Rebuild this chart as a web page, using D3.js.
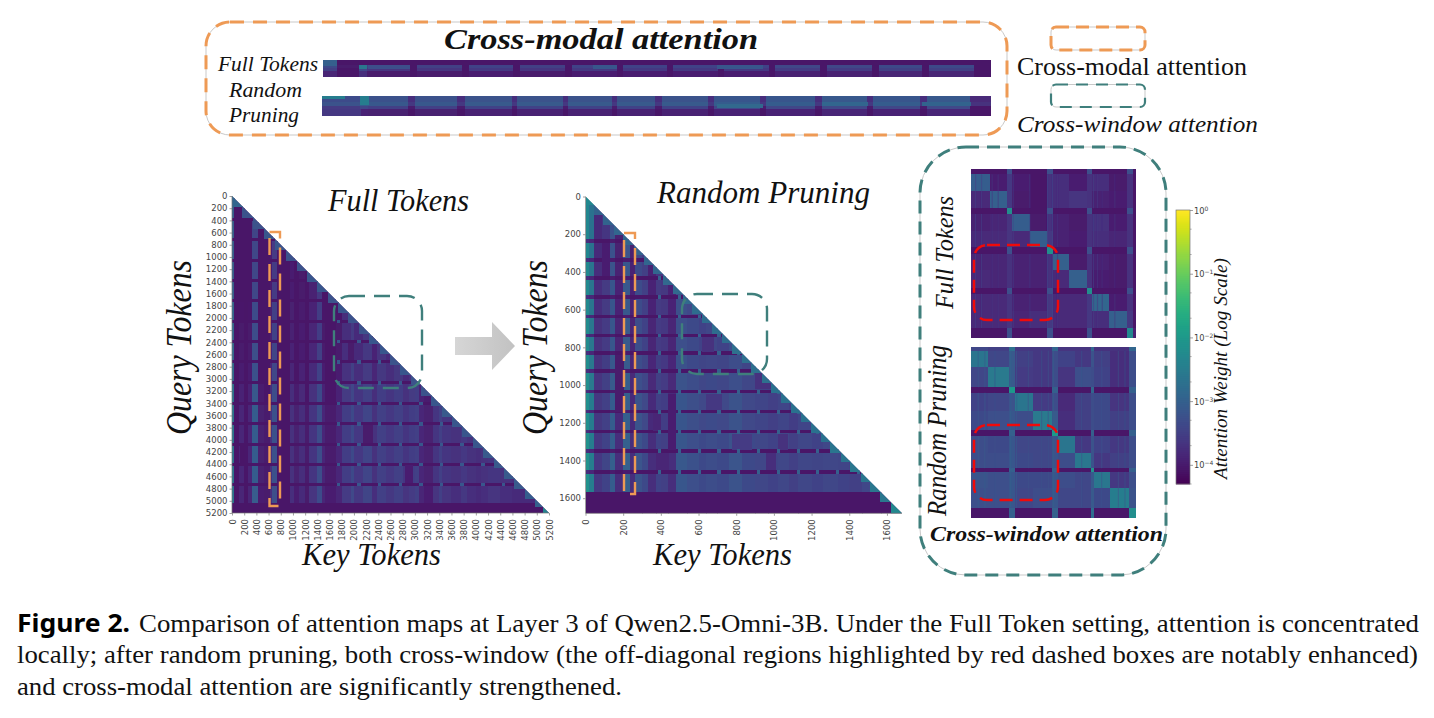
<!DOCTYPE html>
<html><head><meta charset="utf-8">
<script src="https://cdn.jsdelivr.net/npm/d3@7"></script>
<style>
html,body{margin:0;padding:0;background:#fff;overflow:hidden}
svg{display:block}
.tick text{font-family:"DejaVu Sans",sans-serif;fill:#444}
.tick line,.domain{stroke:#777;stroke-width:.7}
</style></head><body><svg id="c" width="1434" height="718"></svg>
<script>
// ---------- values (log10 of attention weight) ----------
const orange="#EE9A55", teal="#3F7F7C", red="#F00A0A";
const tickFull=d3.range(0,5201,200), tickRand=d3.range(0,1601,200);

// Full Tokens triangle
const fullColEdges=[0,40,110,200,260,320,430,520,620,660,740,800,950,1020,1100,1190,1270,1400,1470,1520,1700,1800,1950,2000,2150,2300,2380,2520,2650,2800,2900,3000,3060,3150,3300,3400,3450,3600,3750,3850,4000,4080,4200,4400,4600,4800,5030,5200];
const fullColLevels=[-2.55,-3.8,-3.6,-3.8,-3.6,-2.95,-3.7,-3.75,-3.5,-3.1,-3.8,-4.0,-3.5,-3.7,-3.55,-3.75,-3.45,-3.15,-3.6,-3.75,-3.6,-3.35,-3.2,-3.4,-3.25,-3.5,-3.3,-3.4,-3.3,-3.45,-3.35,-3.3,-3.6,-3.7,-3.45,-3.3,-3.45,-3.5,-3.4,-3.5,-3.55,-3.5,-3.45,-3.5,-3.55,-3.55,-3.3];
const fullRowEdges=[0,360,410,695,745,1033,1083,1360,1410,1690,1740,2030,2080,2360,2410,2690,2740,3040,3090,3372,3422,3710,3760,4044,4094,4372,4422,4705,4755,5033,5200];
const fullRowBase=[-3.98,-4.2,-3.98,-4.2,-3.96,-4.2,-3.96,-4.2,-3.95,-4.2,-3.92,-4.2,-3.9,-4.2,-3.88,-4.2,-3.84,-4.2,-3.75,-4.2,-3.7,-4.2,-3.7,-4.2,-3.7,-4.2,-3.7,-4.2,-3.72,-4.2];
const fullRowGain=[1,.15,1,.15,1,.15,1,.15,1,.15,1.1,.15,1.1,.15,1.1,.15,1.1,.15,1.15,.15,1.15,.15,1.15,.15,1.15,.15,1.15,.15,1.15,.15];
const fullDiagEdges=[0,170,350,530,700,880,1060,1230,1400,1570,1740,1910,2080,2250,2420,2590,2760,2930,3100,3270,3440,3610,3780,3950,4120,4290,4460,4630,4800,4970,5100,5200];
const fullDiagLevels=[-2.9,-3.2,-3.2,-3.15,-3.15,-3.2,-3.2,-3.15,-3.15,-3.2,-3.15,-3.2,-3.2,-3.15,-3.15,-3.2,-3.15,-3.2,-3.2,-3.15,-3.1,-3.15,-3.15,-3.15,-3.1,-3.1,-3.1,-3.1,-3.05,-3.0,-2.4];
const fullPatches=[[2150,2300,3760,4040,-4.0],[3700,3780,3090,3370,-4.0],[2830,2960,4420,4700,-3.95],[1520,1700,4760,5030,-3.95],[1900,2000,2410,2690,-4.0],[2300,2500,2080,2360,-4.0],[130,200,4100,4370,-4.05],[3000,3060,2080,3000,-3.65]];
const fullSpotCols=[3070,3408,3746,4084,4422,4760,1718,2056,2394,2732];
const fullSpotRows=[1690,2030,2360,2690,3040,3372,3710,4044,4372,4705];

// Random Pruning triangle
const randColEdges=[0,18,45,85,130,155,200,235,262,300,330,375,400,440,480,540,600,640,700,760,830,900,970,1020,1080,1130,1200,1260,1340,1400,1470,1570,1680];
const randColLevels=[-2.0,-2.35,-3.45,-3.3,-2.9,-3.6,-2.85,-3.6,-3.05,-3.2,-3.6,-3.3,-3.35,-3.6,-3.0,-3.1,-3.2,-3.15,-3.2,-3.05,-3.2,-3.25,-3.3,-3.25,-3.35,-3.25,-3.3,-3.25,-3.3,-3.35,-3.25,-2.7];
const randRowEdges=[0,226,244,327,345,424,442,523,541,626,644,727,745,820,838,917,935,1025,1043,1131,1149,1238,1256,1340,1358,1452,1470,1565,1680];
const randRowBase=[-3.58,-4.1,-3.58,-4.1,-3.55,-4.1,-3.52,-4.1,-3.52,-4.1,-3.5,-4.1,-3.5,-4.1,-3.48,-4.1,-3.45,-4.1,-3.42,-4.1,-3.42,-4.1,-3.4,-4.1,-3.38,-4.1,-3.4,-4.2];
const randRowGain=[1,.3,1,.3,1,.3,1,.3,1,.3,1,.3,1,.3,1,.3,1,.3,1,.3,1,.3,1,.3,1,.3,1,.1];
const randDiagEdges=[0,45,95,150,200,255,310,360,410,465,515,565,620,670,725,775,830,880,935,985,1040,1090,1145,1195,1250,1300,1355,1405,1460,1510,1565,1620,1680];
const randDiagLevels=[-2.3,-2.95,-2.95,-2.9,-2.9,-2.95,-2.9,-2.9,-2.85,-2.85,-2.85,-2.8,-2.8,-2.8,-2.8,-2.75,-2.75,-2.75,-2.75,-2.7,-2.7,-2.7,-2.7,-2.7,-2.7,-2.65,-2.65,-2.6,-2.6,-2.6,-2.6,-2.3];
const randPatches=[[375,440,1360,1450,-3.85],[440,480,1045,1340,-3.95],[360,400,1150,1240,-3.85],[640,720,1045,1130,-3.6],[960,1010,1360,1450,-3.75],[85,125,245,420,-3.95],[155,200,840,1140,-4.0],[900,1040,935,1020,-3.7],[620,680,745,820,-3.7],[780,880,1260,1340,-3.55],[1020,1070,1260,1340,-3.7]];
const randSpotCols=[385,490,595,700,805,910,1015,1120,1225,1330,1440];
const randSpotRows=[424,523,626,727,820,917,1025,1131,1238,1340,1452];

// Top strips
const barFullCols=[0,14,36,44,87,94,139,146,190,197,242,249,294,300,345,351,396,402,447,453,498,505,550,557,600,607,652,668];
const barFullColLevels=[-3.3,-3.95,-3.2,-3.45,-4.0,-3.45,-4.0,-3.4,-4.0,-3.45,-4.0,-3.4,-4.0,-3.4,-4.0,-3.4,-4.0,-3.4,-4.0,-3.35,-4.0,-3.35,-4.0,-3.3,-4.0,-3.3,-4.1];
const barFullRows=[0,5,8,11,16];
const barFullRowBase=[-4.15,-3.35,-3.5,-3.85], barFullRowGain=[.1,1,1,1];
const barFullPatches=[[0,14,0,5,-3.0],[36,44,5,8,-2.6],[395,440,5,8,-3.15],[45,87,5,8,-3.25],[270,294,5,8,-3.15]];
const barRandCols=[0,38,46,86,93,135,143,190,195,241,246,290,295,333,340,386,392,438,444,493,500,545,551,598,605,648,668];
const barRandColLevels=[-3.2,-3.0,-3.1,-3.7,-3.1,-3.7,-3.05,-3.7,-3.05,-3.7,-3.05,-3.7,-3.05,-3.7,-3.05,-3.7,-3.0,-3.7,-3.0,-3.7,-2.95,-3.7,-3.0,-3.7,-2.95,-3.8];
const barRandRows=[0,6,10,13,19];
const barRandRowBase=[-3.2,-3.1,-3.45,-3.9], barRandRowGain=[.8,.8,.8,.6];
const barRandPatches=[[0,22,0,2,-2.5],[38,46,0,8,-2.5],[395,440,8,11,-2.85],[0,38,13,19,-3.6],[500,545,6,9,-2.9],[600,648,6,9,-2.95]];

// Inset block matrices
const insetFullCols=[0,57,107,124,177,227,245,295,347,364,415,467,485,493];
const insetFullRows=[0,16,66,118,135,185,235,255,305,358,375,426,478,505];
const insetFull=[
[-4.25,-4.25,-3.25,-4.2,-4.2,-3.25,-4.2,-4.2,-3.25,-4.2,-4.2,-3.25,-4.1],
[-3.05,-3.95,-3.6,-3.95,-4.05,-3.7,-3.75,-3.95,-3.7,-3.75,-4.0,-3.7,-4.1],
[-3.8,-3.0,-3.6,-4.0,-4.05,-3.7,-3.75,-3.65,-3.7,-3.9,-3.95,-3.7,-4.1],
[-4.25,-4.25,-2.2,-4.2,-4.2,-3.25,-4.2,-4.2,-3.25,-4.2,-4.2,-3.25,-4.1],
[-3.9,-3.85,-3.65,-3.05,-4.0,-3.7,-3.9,-4.0,-3.7,-3.7,-3.95,-3.7,-4.1],
[-3.8,-3.8,-3.65,-3.8,-3.05,-3.6,-3.9,-3.95,-3.7,-3.75,-3.85,-3.7,-4.1],
[-4.25,-4.25,-3.25,-4.2,-4.2,-2.2,-4.2,-4.2,-3.25,-4.2,-4.2,-3.25,-4.1],
[-3.85,-3.85,-3.7,-3.9,-3.9,-3.7,-3.0,-4.0,-3.7,-3.9,-4.0,-3.7,-4.1],
[-3.8,-3.85,-3.7,-3.9,-3.9,-3.7,-3.8,-3.0,-3.7,-3.95,-4.0,-3.7,-4.1],
[-4.25,-4.25,-3.25,-4.2,-4.2,-3.25,-4.2,-4.2,-2.2,-4.2,-4.2,-3.25,-4.1],
[-3.8,-3.8,-3.65,-3.9,-3.9,-3.6,-3.8,-3.8,-3.6,-2.9,-3.95,-3.7,-4.1],
[-3.8,-3.8,-3.65,-3.85,-3.75,-3.6,-3.8,-3.8,-3.6,-3.75,-3.0,-3.6,-4.05],
[-4.25,-4.25,-3.25,-4.2,-4.2,-3.25,-4.2,-4.2,-3.25,-4.2,-4.2,-2.3,-3.9]];
const insetRandCols=[0,52,115,132,187,244,262,312,359,369,417,475,493];
const insetRandRows=[0,10,58,120,136,190,248,266,316,363,373,423,481,510];
const insetRand=[
[-3.4,-3.5,-2.75,-3.6,-3.6,-2.9,-3.65,-3.65,-2.9,-3.7,-3.7,-2.9],
[-2.65,-3.4,-3.1,-3.5,-3.6,-3.3,-3.45,-3.6,-3.2,-3.5,-3.75,-3.3],
[-3.4,-2.55,-3.1,-3.55,-3.6,-3.3,-3.65,-3.25,-3.3,-3.45,-3.75,-3.3],
[-4.15,-4.15,-2.0,-4.15,-4.15,-3.0,-4.15,-4.15,-2.9,-4.15,-4.15,-3.0],
[-3.45,-3.4,-3.2,-2.65,-3.55,-3.3,-3.8,-3.5,-3.3,-3.35,-3.65,-3.3],
[-3.35,-3.25,-3.15,-3.3,-2.55,-3.1,-3.75,-3.5,-3.3,-3.35,-3.5,-3.3],
[-4.15,-4.15,-3.0,-4.15,-4.15,-2.0,-4.15,-4.15,-3.0,-4.15,-4.15,-3.0],
[-3.3,-3.35,-3.15,-3.4,-3.4,-3.2,-2.65,-3.6,-3.2,-3.45,-3.6,-3.3],
[-3.3,-3.3,-3.15,-3.35,-3.4,-3.2,-3.3,-2.6,-3.2,-3.6,-3.5,-3.3],
[-4.15,-4.15,-3.0,-4.15,-4.15,-3.0,-4.15,-4.15,-2.1,-4.15,-4.15,-3.0],
[-3.2,-3.25,-3.15,-3.35,-3.35,-3.15,-3.3,-3.4,-3.1,-2.6,-3.6,-3.25],
[-3.25,-3.25,-3.15,-3.4,-3.3,-3.15,-3.4,-3.4,-3.1,-3.35,-2.5,-3.2],
[-4.2,-4.2,-3.0,-4.2,-4.2,-3.0,-4.2,-4.2,-2.8,-4.2,-4.2,-2.2]];
const insetFullStripes=[[12,-3.45],[30,-3.45],[62,-3.6],[80,-3.65],[125,-3.4],[175,-3.5],[228,-3.4],[243,-3.4],[258,-3.65],[366,-3.5],[378,-3.6],[392,-3.7],[430,-3.65]];
const insetRandStripes=[[20,-3.1],[40,-3.05],[70,-3.2],[118,-2.9],[135,-3.0],[170,-3.2],[210,-3.2],[230,-3.2],[245,-3.0],[330,-3.15],[390,-3.15],[440,-3.2],[460,-3.15]];

// Colourbar
const cbarTicks=[1,.1,.01,.001,.0001];
const cbarMinor=[.5,.2,.05,.02,.005,.002,.0005,.0002,.00005];
const cbarSup=["0","\u22121","\u22122","\u22123","\u22124"];
const floorLevel=-4.07;

// ---------- drawing ----------
const svg=d3.select("#c");
const defs=svg.append("defs");
defs.append("filter").attr("id","soft").attr("x","-2%").attr("y","-2%").attr("width","104%").attr("height","104%")
  .append("feGaussianBlur").attr("stdDeviation",.5);
const colour=d3.scaleSequentialLog(d3.interpolateViridis).domain([5e-5,1]);
const fill=v=>colour(Math.pow(10,Math.max(v,floorLevel)));
const SER='"Liberation Serif",serif', SANS='"DejaVu Sans",sans-serif';

function rectsFrom(g,rows,x,y){
  g.selectAll(null).data(rows).join("rect")
   .attr("shape-rendering","crispEdges")
   .attr("x",d=>x(d[0])).attr("width",d=>Math.max(.8,x(d[1])-x(d[0])+.5))
   .attr("y",d=>y(d[2])).attr("height",d=>Math.max(.8,y(d[3])-y(d[2])+.5))
   .attr("fill",d=>fill(d[4]));
}
function profileCells(colE,colV,rowE,rowB,rowG,pivot){
  const out=[];
  rowB.forEach((b,i)=>colV.forEach((c,j)=>out.push([colE[j],colE[j+1],rowE[i],rowE[i+1],b+rowG[i]*(c-pivot)])));
  return out;
}
function triangle(id,o){
  const x=d3.scaleLinear().domain([0,o.max]).range([o.x0,o.x1]);
  const y=d3.scaleLinear().domain([0,o.max]).range([o.y0,o.y1]);
  defs.append("clipPath").attr("id",id).append("polygon")
    .attr("points",[[0,0],[o.max,o.max],[0,o.max]].map(p=>[x(p[0]),y(p[1])].join(",")).join(" "));
  const g=svg.append("g").attr("filter","url(#soft)").append("g").attr("clip-path",`url(#${id})`);
  rectsFrom(g,profileCells(o.colE,o.colV,o.rowE,o.rowB,o.rowG,o.pivot),x,y);
  rectsFrom(g,o.patches,x,y);
  rectsFrom(g,d3.cross(o.spotC,o.spotR).filter(p=>p[0]<p[1]).map(p=>[p[0],p[0]+o.spotW,p[1],p[1]+o.spotH,o.spotV]),x,y);
  rectsFrom(g,o.diagV.map((v,i)=>[o.diagE[i],o.diagE[i+1],o.diagE[i],o.diagE[i+1],v]),x,y);
  const fmt=d3.format("d");
  const ax=svg.append("g").attr("transform",`translate(${o.x0},0)`).call(d3.axisLeft(y).tickValues(o.ticks).tickFormat(fmt).tickSize(2.5).tickPadding(2));
  ax.selectAll("text").style("font-size","8.5px");
  const bx=svg.append("g").attr("transform",`translate(0,${o.y1})`).call(d3.axisBottom(x).tickValues(o.ticks).tickFormat(fmt).tickSize(2.5).tickPadding(2));
  bx.selectAll("text").style("font-size","8.5px").attr("text-anchor","end").attr("dy",0).attr("y",0)
    .attr("transform","translate(3,6) rotate(-90)");
  ax.select(".domain").attr("d",`M${0},${o.y0}V${o.y1}`);
  bx.select(".domain").attr("d",`M${o.x0},0H${o.x1}`);
}
function strip(id,o){
  const x=d3.scaleLinear().domain([0,o.colE[o.colE.length-1]]).range([o.x0,o.x1]);
  const y=d3.scaleLinear().domain([0,o.rowE[o.rowE.length-1]]).range([o.y0,o.y1]);
  const g=svg.append("g").attr("filter","url(#soft)");
  rectsFrom(g,profileCells(o.colE,o.colV,o.rowE,o.rowB,o.rowG,o.pivot),x,y);
  rectsFrom(g,o.patches,x,y);
}
function inset(o){
  const x=d3.scaleLinear().domain([0,o.cols[o.cols.length-1]]).range([o.x0,o.x1]);
  const y=d3.scaleLinear().domain([0,o.rows[o.rows.length-1]]).range([o.y0,o.y1]);
  const g=svg.append("g").attr("filter","url(#soft)");
  const cells=[];
  o.m.forEach((r,i)=>r.forEach((v,j)=>cells.push([o.cols[j],o.cols[j+1],o.rows[i],o.rows[i+1],v])));
  rectsFrom(g,cells,x,y);
  o.rowsLight.forEach(([a,b])=>{
    g.selectAll(null).data(o.stripes).join("rect")
     .attr("x",d=>x(d[0])).attr("width",1.1).attr("y",y(a)).attr("height",y(b)-y(a))
     .attr("fill",d=>fill(d[1])).attr("opacity",.55);
  });
}
function rounded(x,y,w,h,r,col,sw,dash,under){
  if(under) svg.append("rect").attr("x",x).attr("y",y).attr("width",w).attr("height",h).attr("rx",r).attr("fill","none").attr("stroke","#c9c9c9").attr("stroke-width",1);
  svg.append("rect").attr("x",x).attr("y",y).attr("width",w).attr("height",h).attr("rx",r).attr("fill","none")
    .attr("stroke",col).attr("stroke-width",sw).attr("stroke-dasharray",dash);
}
function label(s,x,y,size,w,opt={}){
  const t=svg.append("text").text(s).attr("font-family",opt.font||SER).attr("font-size",size)
    .attr("font-style",opt.italic===false?"normal":"italic").attr("font-weight",opt.bold?"bold":"normal").attr("fill","#111");
  if(w) t.attr("textLength",w).attr("lengthAdjust","spacingAndGlyphs");
  if(opt.rot) t.attr("transform",`translate(${x},${y}) rotate(-90)`); else t.attr("x",x).attr("y",y);
  return t;
}

strip("bf",{x0:323,x1:990,y0:60,y1:76,colE:barFullCols,colV:barFullColLevels,rowE:barFullRows,rowB:barFullRowBase,rowG:barFullRowGain,pivot:-3.3,patches:barFullPatches});
strip("br",{x0:322,x1:990,y0:96,y1:115,colE:barRandCols,colV:barRandColLevels,rowE:barRandRows,rowB:barRandRowBase,rowG:barRandRowGain,pivot:-3.05,patches:barRandPatches});

triangle("triF",{max:5200,x0:232,x1:549,y0:196,y1:513,colE:fullColEdges,colV:fullColLevels,rowE:fullRowEdges,rowB:fullRowBase,rowG:fullRowGain,pivot:-3.5,patches:fullPatches,
  spotC:fullSpotCols,spotR:fullSpotRows,spotW:50,spotH:50,spotV:-3.15,diagE:fullDiagEdges,diagV:fullDiagLevels,ticks:tickFull});
triangle("triR",{max:1680,x0:585.5,x1:902,y0:196.5,y1:513.3,colE:randColEdges,colV:randColLevels,rowE:randRowEdges,rowB:randRowBase,rowG:randRowGain,pivot:-3.25,patches:randPatches,
  spotC:randSpotCols,spotR:randSpotRows,spotW:14,spotH:18,spotV:-3.0,diagE:randDiagEdges,diagV:randDiagLevels,ticks:tickRand});

inset({x0:971,x1:1135.3,y0:169,y1:337,cols:insetFullCols,rows:insetFullRows,m:insetFull,stripes:insetFullStripes,rowsLight:[[16,118],[135,235],[255,358],[375,478]]});
inset({x0:971,x1:1135.5,y0:347.3,y1:517.3,cols:insetRandCols,rows:insetRandRows,m:insetRand,stripes:insetRandStripes,rowsLight:[[10,120],[136,248],[266,363],[373,481]]});

// colourbar
const cbY=d3.scaleLog().domain([5e-5,1]).range([484,210]);
const cbG=svg.append("g");
cbG.selectAll(null).data(d3.range(0,137)).join("rect").attr("x",1176).attr("width",14)
  .attr("y",d=>484-(d+1)*2).attr("height",2.4).attr("fill",d=>d3.interpolateViridis((d+.5)/137));
cbG.append("rect").attr("x",1176).attr("y",210).attr("width",14).attr("height",274).attr("fill","none").attr("stroke","#777").attr("stroke-width",.7);
const cbAx=svg.append("g").attr("transform","translate(1190,0)")
  .call(d3.axisRight(cbY).tickValues(cbarTicks).tickSize(3).tickPadding(2).tickFormat(""));
cbAx.select(".domain").remove();
cbAx.selectAll(null).data(cbarMinor).join("line").attr("x1",0).attr("x2",1.6).attr("y1",d=>cbY(d)).attr("y2",d=>cbY(d)).attr("stroke","#777").attr("stroke-width",.6);
cbAx.selectAll(".tick").each(function(d,i){
  const t=d3.select(this).select("text").text(null).attr("x",4).attr("dy",null).attr("y",3).style("font-size","8.3px").attr("text-anchor","start");
  t.append("tspan").text("10");
  t.append("tspan").text(cbarSup[i]).attr("dy",-3).style("font-size","6px");
});

// dashed frames
rounded(206,22,801,113,24,orange,3,"14 9",true);
rounded(1051,27,94,23,5,orange,3,"13 7",true);
rounded(1051,84.5,94,22.5,5,teal,2.2,"12 8",true);
rounded(920,147,246,428,46,teal,3,"13 8",true);
rounded(974,245,84,75,13,red,2.5,"13 7");
rounded(974,425,84,75,13,red,2.5,"13 7");
rounded(269.5,232,10.5,274,0,orange,2.4,"17 9");
rounded(624,233,11,261,0,orange,2.4,"17 9");
rounded(334,296,88,92,15,teal,2.4,"16 9");
rounded(682,294,85,80,15,teal,2.4,"16 9");

// arrow
const arrow=[[455,337],[492,337],[492,322],[515,346],[492,370],[492,355],[455,355]];
const grad=defs.append("linearGradient").attr("id","ag").attr("x1",0).attr("x2",1).attr("y1",0).attr("y2",0);
grad.append("stop").attr("offset",0).attr("stop-color","#d6d6d6");
grad.append("stop").attr("offset",1).attr("stop-color","#c2c2c2");
svg.append("polygon").attr("points",arrow.map(p=>p.join(",")).join(" ")).attr("fill","url(#ag)");

// texts
label("Cross-modal attention",444,49,30,314,{bold:true});
label("Full Tokens",218,71,20.5,100);
label("Random",229,97,21,73);
label("Pruning",229,122,21,70);
label("Cross-modal attention",1017,75,25,230,{italic:false});
label("Cross-window attention",1017,132,23.5,241);
label("Full Tokens",328,211,32,141);
label("Random Pruning",657,203,32,213);
label("Query Tokens",191,435,35,175,{rot:true});
label("Query Tokens",547,435,35,175,{rot:true});
label("Key Tokens",302,565,31,139);
label("Key Tokens",653,565,31,139);
label("Full Tokens",953,309,26,113,{rot:true});
label("Random Pruning",946,516,27,171,{rot:true});
label("Cross-window attention",930,541,20.5,233,{bold:true});
label("Attention Weight (Log Scale)",1227,479,19,221,{rot:true});

label("Figure 2.",17,632,24.5,113,{font:'"Noto Sans",sans-serif',bold:true,italic:false}).attr("fill","#000");
label("Comparison of attention maps at Layer 3 of Qwen2.5-Omni-3B. Under the Full Token setting, attention is concentrated",139,632,26,1280,{italic:false});
label("locally; after random pruning, both cross-window (the off-diagonal regions highlighted by red dashed boxes are notably enhanced)",17,663,26,1401,{italic:false});
label("and cross-modal attention are significantly strengthened.",17,695,26,605,{italic:false});
</script></body></html>
